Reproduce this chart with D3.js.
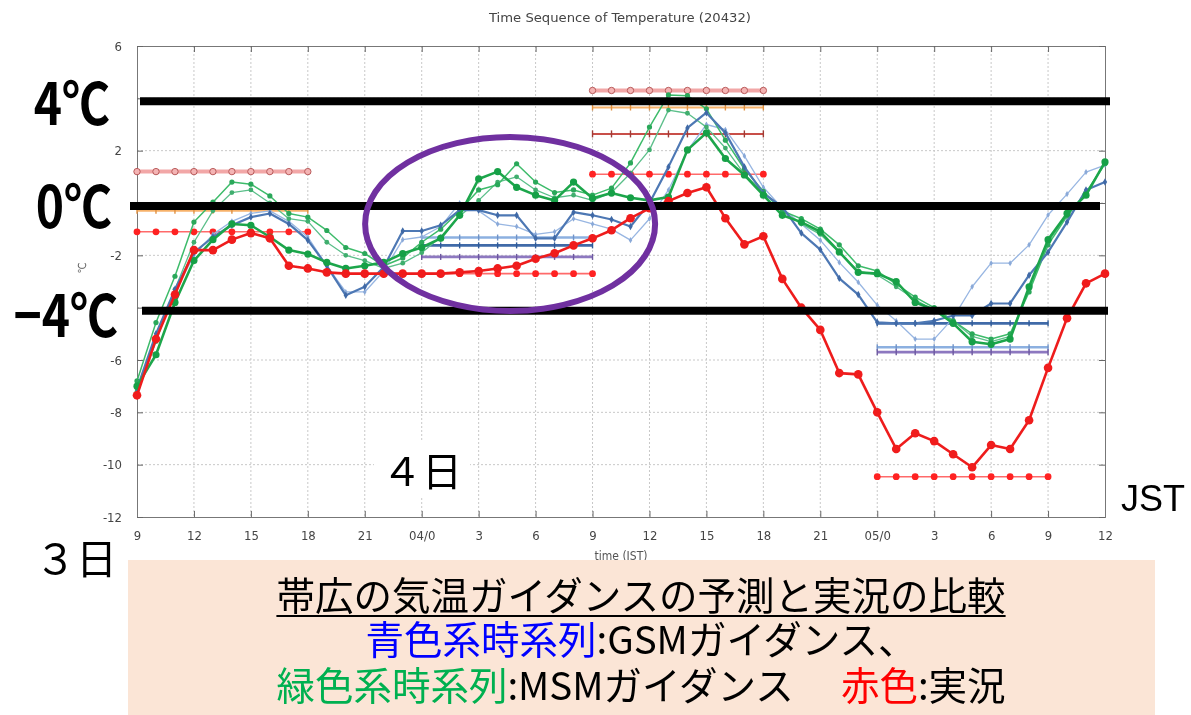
<!DOCTYPE html>
<html>
<head>
<meta charset="utf-8">
<script src="https://cdn.jsdelivr.net/npm/d3@7"></script>
<style>
  html, body { margin: 0; padding: 0; background: #fff; }
  svg { display: block; }
</style>
</head>
<body>
<svg id="chart" width="1191" height="715"></svg>
<script>
// ---- data: hourly temperatures (°C), hour 0 = 3日 9時 JST ----
const hours = d3.range(0, 52);
const xTickHours = d3.range(0, 52, 3);
const xTickLabels = ["9","12","15","18","21","04/0","3","6","9","12","15","18","21","05/0","3","6","9","12"];
const yTicks = [6, 4, 2, 0, -2, -4, -6, -8, -10, -12];

// observed temperature (実況)
const observed = [-7.35,-5.2,-3.5,-1.8,-1.8,-1.4,-1.15,-1.35,-2.4,-2.5,
  -2.65,-2.7,-2.7,-2.7,-2.7,-2.7,-2.7,-2.65,-2.6,-2.5,
  -2.4,-2.13,-1.92,-1.62,-1.35,-1.04,-0.58,-0.2,0.07,0.38,
  0.6,-0.58,-1.58,-1.27,-2.9,-4.0,-4.85,-6.5,-6.55,-8.0,
  -9.4,-8.8,-9.1,-9.6,-10.1,-9.25,-9.4,-8.3,-6.3,-4.4,
  -3.07,-2.7];

// MSM guidance runs
const msmA = [-7.0,-5.8,-3.8,-2.2,-1.4,-0.8,-0.85,-1.3,-1.8,-1.95,
  -2.27,-2.5,-2.4,-2.27,-1.93,-1.7,-1.35,-0.47,0.92,1.2,
  0.6,0.3,0.1,0.8,0.18,0.38,0.2,0.1,0.23,2.03,
  2.68,1.7,1.07,0.3,-0.47,-0.73,-1.1,-1.87,-2.65,-2.7,
  -3.0,-3.8,-4.07,-4.6,-5.3,-5.4,-5.2,-3.2,-1.4,-0.4,
  0.3,1.57];
const msmB = [-6.8,-4.57,-2.8,-0.73,0.03,0.8,0.72,0.27,-0.4,-0.54,
  -1.05,-1.7,-1.93,-2.4,-2.1,-1.5,-1.0,-0.3,0.5,0.7,
  1.5,0.8,0.4,0.5,0.3,0.57,1.53,2.9,4.13,4.1,
  3.6,2.4,1.3,0.45,-0.3,-0.6,-1.0,-1.6,-2.4,-2.6,
  -3.1,-3.6,-4.0,-4.5,-5.0,-5.2,-5.0,-3.4,-1.6,-0.5,
  0.4,1.5];
const msmC = [-7.2,-5.3,-3.3,-1.5,-0.3,0.4,0.5,0.0,-0.6,-0.7,
  -1.5,-2.0,-2.2,-2.5,-2.3,-1.9,-1.3,-0.5,0.1,0.8,
  1.0,0.5,0.2,0.3,0.1,0.4,1.14,2.03,3.55,3.43,
  2.9,2.1,1.1,0.4,-0.3,-0.8,-1.2,-1.9,-2.6,-2.75,
  -3.2,-3.7,-4.1,-4.5,-5.1,-5.3,-5.1,-3.3,-1.5,-0.45,
  0.35,1.55];

// GSM guidance runs
const gsmA = [-7.1,-5.0,-3.3,-1.9,-1.3,-0.85,-0.54,-0.4,-0.8,-1.42,
  -2.4,-3.53,-3.2,-2.45,-1.07,-1.07,-0.85,-0.27,-0.27,-0.47,
  -0.47,-1.35,-1.35,-0.35,-0.47,-0.63,-0.9,0.0,1.38,2.87,
  3.45,2.68,1.38,0.37,-0.15,-1.15,-1.78,-2.88,-3.5,-4.56,
  -4.6,-4.6,-4.5,-4.3,-4.3,-3.84,-3.84,-2.76,-1.88,-0.73,
  0.5,0.8];
const gsmB = [-7.2,-5.2,-3.4,-2.0,-1.2,-0.7,-0.4,-0.3,-0.7,-1.3,
  -2.4,-3.4,-3.4,-2.6,-1.4,-1.3,-0.9,0.0,-0.3,-0.8,
  -0.9,-1.2,-1.1,-0.6,-0.8,-1.0,-1.42,-0.6,0.5,2.0,
  3.0,2.8,1.8,0.6,-0.2,-0.8,-1.42,-2.27,-3.03,-3.9,
  -4.5,-5.2,-5.2,-4.4,-3.2,-2.3,-2.3,-1.6,-0.46,0.34,
  1.18,1.45];

// max / min guidance levels per period (start hour, end hour)
const periods = [[0, 9], [15, 24], [24, 33], [39, 48]];
const levelPink   = [1.2, null, 4.3, null];
const levelOrange = [-0.3, null, 3.65, null];
const levelBrown  = [null, null, 2.64, null];
const levelRed    = [-1.1, -2.7, 1.1, -10.46];
const levelSteel  = [null, -1.62, null, -4.6];
const levelSky    = [null, -1.32, null, -5.51];
const levelPurple = [null, -2.06, null, -5.7];

// reference temperatures and labels
const refLevels = [4, 0, -4];
const refLabels = ["4℃", "0℃", "−4℃"];

const titleText = "Time Sequence of Temperature (20432)";
const captionLine1 = "帯広の気温ガイダンスの予測と実況の比較";
const captionLine2 = [["青色系時系列", "#0000ff"], [":GSMガイダンス、", "#000"]];
const captionLine3 = [["緑色系時系列", "#00b050"], [":MSMガイダンス　 ", "#000"], ["赤色", "#ff0000"], [":実況", "#000"]];

// ---- layout ----
const svg = d3.select("#chart");
const plot = { left: 137, right: 1105, top: 46, bottom: 517 };
const x = d3.scaleLinear().domain([0, 51]).range([plot.left, plot.right]);
const y = d3.scaleLinear().domain([-12, 6]).range([plot.bottom, plot.top]);

const defs = svg.append("defs");
defs.append("filter").attr("id", "soft")
  .append("feGaussianBlur").attr("stdDeviation", 0.55);

const chart = svg.append("g").attr("filter", "url(#soft)");

// title
chart.append("text")
  .attr("x", 620).attr("y", 22)
  .attr("text-anchor", "middle")
  .attr("font-family", "'Liberation Sans Narrow','DejaVu Sans Condensed',sans-serif")
  .attr("font-size", 13).attr("fill", "#444")
  .attr("textLength", 262).attr("lengthAdjust", "spacingAndGlyphs")
  .text(titleText);

// grid
const grid = chart.append("g").attr("stroke", "#c8c8c8").attr("stroke-dasharray", "2,2").attr("stroke-width", 1);
grid.selectAll("line.gx").data(xTickHours.slice(1, -1)).join("line")
  .attr("x1", d => x(d)).attr("x2", d => x(d)).attr("y1", plot.top).attr("y2", plot.bottom);
grid.selectAll("line.gy").data(yTicks.slice(1, -1)).join("line")
  .attr("x1", plot.left).attr("x2", plot.right).attr("y1", d => y(d)).attr("y2", d => y(d));

// axes
const tickFont = "'Liberation Sans Narrow','DejaVu Sans Condensed',sans-serif";
function styleAxis(g) {
  g.select(".domain").attr("stroke", "#777");
  g.selectAll(".tick line").attr("stroke", "#666");
  g.selectAll("text").attr("font-family", tickFont).attr("font-size", 13).attr("fill", "#444");
}
chart.append("g").attr("transform", `translate(0,${plot.bottom})`)
  .call(d3.axisBottom(x).tickValues(xTickHours).tickSize(-6).tickPadding(14)
    .tickFormat((d, i) => xTickLabels[i]))
  .call(styleAxis);
chart.append("g").attr("transform", `translate(0,${plot.top})`)
  .call(d3.axisTop(x).tickValues(xTickHours).tickSize(-6).tickFormat(""))
  .call(styleAxis);
// values marked by the large labels carry no small tick label
chart.append("g").attr("transform", `translate(${plot.left},0)`)
  .call(d3.axisLeft(y).tickValues(yTicks).tickSize(-6).tickPadding(15)
    .tickFormat(d => refLevels.includes(d) ? "" : String(d)))
  .call(styleAxis);
chart.append("g").attr("transform", `translate(${plot.right},0)`)
  .call(d3.axisRight(y).tickValues(yTicks).tickSize(-6).tickFormat(""))
  .call(styleAxis);

// axis titles
chart.append("text").attr("x", 621).attr("y", 560).attr("text-anchor", "middle")
  .attr("font-family", tickFont).attr("font-size", 12).attr("fill", "#555").text("time (JST)");
chart.append("text").attr("transform", "translate(86,268) rotate(-90)").attr("text-anchor", "middle")
  .attr("font-family", tickFont).attr("font-size", 11).attr("fill", "#666").text("℃");

// ---- max/min level segments ----
const levelStyles = [
  { data: levelPink,   stroke: "#f2a7a7", width: 4,   mark: "ring",  mfill: "#f4b4b4", mstroke: "#b85a5a", r: 3.2 },
  { data: levelOrange, stroke: "#f7b26b", width: 2,   mark: "tick",  mstroke: "#e09040", r: 3 },
  { data: levelBrown,  stroke: "#c8504a", width: 2,   mark: "tick",  mstroke: "#a03a35", r: 3.5 },
  { data: levelRed,    stroke: "#ff6a6a", width: 1.6, mark: "dot",   mfill: "#ff2020", r: 3.4 },
  { data: levelSky,    stroke: "#8cb0e0", width: 2.4, mark: "tick",  mstroke: "#6f93c8", r: 3 },
  { data: levelSteel,  stroke: "#3f6aa8", width: 2.6, mark: "tick",  mstroke: "#2f5a98", r: 3 },
  { data: levelPurple, stroke: "#8d78c0", width: 2.6, mark: "tick",  mstroke: "#6d58a0", r: 3 }
];
const segs = chart.append("g");
levelStyles.forEach(st => {
  st.data.forEach((v, i) => {
    if (v == null) return;
    const [h0, h1] = periods[i];
    segs.append("line")
      .attr("x1", x(h0)).attr("x2", x(h1)).attr("y1", y(v)).attr("y2", y(v))
      .attr("stroke", st.stroke).attr("stroke-width", st.width);
    const hs = d3.range(h0, h1 + 1);
    if (st.mark === "dot" || st.mark === "ring") {
      segs.selectAll(null).data(hs).join("circle")
        .attr("cx", h => x(h)).attr("cy", y(v)).attr("r", st.r)
        .attr("fill", st.mfill).attr("stroke", st.mstroke || "none").attr("stroke-width", 1);
    } else {
      segs.selectAll(null).data(hs).join("line")
        .attr("x1", h => x(h)).attr("x2", h => x(h))
        .attr("y1", y(v) - st.r).attr("y2", y(v) + st.r)
        .attr("stroke", st.mstroke).attr("stroke-width", 1.4);
    }
  });
});

// ---- time series ----
const line = d3.line().x((d, i) => x(hours[i])).y(d => y(d));
function drawSeries(values, stroke, width, r, fill, shape) {
  const g = chart.append("g");
  g.append("path").datum(values).attr("d", line)
    .attr("fill", "none").attr("stroke", stroke).attr("stroke-width", width)
    .attr("stroke-linejoin", "round");
  if (shape === "diamond") {
    g.selectAll("path.m").data(values).join("path").attr("class", "m")
      .attr("d", d3.symbol(d3.symbolDiamond, r * r * 2.2))
      .attr("transform", (d, i) => `translate(${x(hours[i])},${y(d)})`)
      .attr("fill", fill);
  } else {
    g.selectAll("circle").data(values).join("circle")
      .attr("cx", (d, i) => x(hours[i])).attr("cy", d => y(d)).attr("r", r)
      .attr("fill", fill);
  }
}
drawSeries(gsmB, "#98b6e2", 1.3, 2.2, "#8aa9d8", "diamond");
drawSeries(msmC, "#5bbf8a", 1.3, 2.4, "#3fae6e", "circle");
drawSeries(msmB, "#3dbb6a", 1.5, 2.6, "#2aa85a", "circle");
drawSeries(gsmA, "#4e78b4", 2.2, 2.7, "#3f69a6", "diamond");
drawSeries(msmA, "#1fa64c", 2.6, 3.6, "#17a046", "circle");
drawSeries(observed, "#ee1c1c", 2.6, 4.3, "#f01a1a", "circle");

// ---- annotations ----
const ann = svg.append("g");
const refOffset = 3;
const refExtent = [[140, 1110], [130, 1100], [142, 1108]];
refLevels.forEach((v, i) => {
  ann.append("line")
    .attr("x1", refExtent[i][0]).attr("x2", refExtent[i][1])
    .attr("y1", y(v) + refOffset).attr("y2", y(v) + refOffset)
    .attr("stroke", "#000").attr("stroke-width", 8);
});

const bigLabelPos = [[110, 125], [112, 228], [118, 337]];
refLabels.forEach((t, i) => {
  const [lx, ly] = bigLabelPos[i];
  ann.append("g").attr("transform", `translate(${lx},${ly}) scale(1,1.2)`)
    .append("text").attr("text-anchor", "end")
    .attr("font-family", "'Noto Sans CJK JP',sans-serif").attr("font-weight", 700)
    .attr("font-size", 48).attr("fill", "#000").text(t);
});

// ellipse around the night-time period of the 4th
ann.append("ellipse")
  .attr("cx", (x(12) + x(27)) / 2 + 3).attr("cy", 224).attr("rx", 145).attr("ry", 87)
  .attr("fill", "none").attr("stroke", "#7030a0").attr("stroke-width", 6);

// day labels
ann.append("rect").attr("x", 374).attr("y", 442).attr("width", 96).attr("height", 54).attr("fill", "#fff");
ann.append("text").attr("x", 422).attr("y", 486).attr("text-anchor", "middle")
  .attr("font-family", "'Noto Sans CJK JP',sans-serif").attr("font-size", 40).attr("fill", "#000").text("４日");
ann.append("text").attr("x", 76).attr("y", 574).attr("text-anchor", "middle")
  .attr("font-family", "'Noto Sans CJK JP',sans-serif").attr("font-size", 41).attr("fill", "#000").text("３日");
ann.append("text").attr("x", 1153).attr("y", 511).attr("text-anchor", "middle")
  .attr("font-family", "'Liberation Sans',Arial,sans-serif").attr("font-size", 36).attr("fill", "#000").text("JST");

// caption box
ann.append("rect").attr("x", 128).attr("y", 560).attr("width", 1027).attr("height", 160).attr("fill", "#fbe5d6");
const capFont = "'Noto Sans CJK JP',sans-serif";
const cap = ann.append("text").attr("text-anchor", "middle")
  .attr("font-family", capFont).attr("font-size", 38.5);
cap.append("tspan").attr("x", 641).attr("y", 610).attr("fill", "#000").text(captionLine1);
[[captionLine2, 654], [captionLine3, 700]].forEach(([parts, yy]) => {
  parts.forEach(([s, c], k) => {
    const ts = cap.append("tspan").attr("fill", c).text(s);
    if (k === 0) ts.attr("x", 641).attr("y", yy);
  });
});
const w1 = cap.select("tspan").node().getComputedTextLength();
ann.append("line").attr("x1", 641 - w1 / 2).attr("x2", 641 + w1 / 2).attr("y1", 616).attr("y2", 616)
  .attr("stroke", "#000").attr("stroke-width", 2);
</script>
</body>
</html>
